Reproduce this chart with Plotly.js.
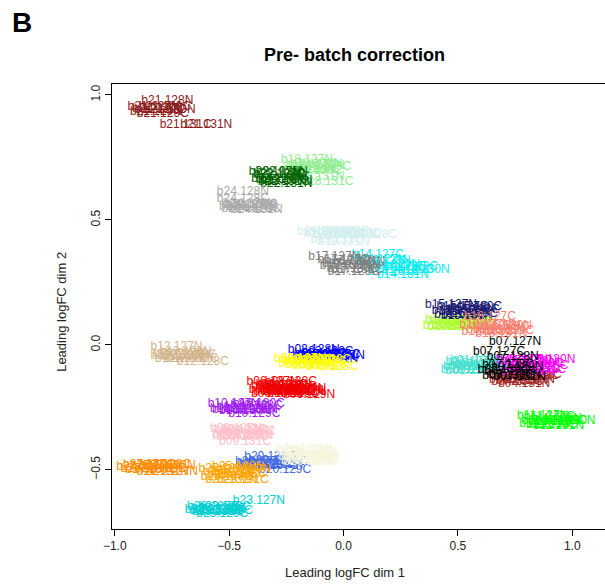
<!DOCTYPE html>
<html>
<head>
<meta charset="utf-8">
<script src="https://cdn.plot.ly/plotly-3.0.1.min.js"></script>
<style>
html,body{margin:0;padding:0;overflow:hidden;background:#fff;}
#chart{width:640px;height:587px;}
</style>
</head>
<body>
<div id="chart"></div>
<script>
// TMT channels (one label per batch x channel)
const channels = ["127N","127C","128N","128C","129N","129C","130N","130C","131N","131C"];

const batches = ["b01","b02","b03","b04","b05","b06","b07","b08","b09","b10","b11","b12","b13","b14",
                 "b15","b16","b17","b18","b19","b20","b21","b22","b23","b24","b25","b26","b27"];
const colors  = ["#40E0D0","#0000FF","#FFFF00","#A52A2A","#FF00FF","#FF0000","#000000","#EE0000","#FFC0CB","#A020F0",
                 "#00FF00","#D2B48C","#ADFF2F","#00EEEE","#191970","#FA8072","#7F7F7F","#90EE90","#D1EEEE","#4169E1",
                 "#8B1A1A","#006400","#00CED1","#A9A9A9","#FFA500","#F5F5DC","#FF8C00"];

// Leading logFC dim 1 (x) and dim 2 (y) per batch, in channel order
const b01_x = [0.56,0.58,0.60,0.55,0.57,0.54,0.61,0.59,0.56,0.62];
const b01_y = [-0.07,-0.065,-0.075,-0.09,-0.085,-0.10,-0.09,-0.10,-0.105,-0.08];
const b02_x = [-0.02,-0.08,-0.13,-0.10,-0.06,-0.04,-0.11,-0.07,-0.05,-0.09];
const b02_y = [-0.045,-0.04,-0.02,-0.035,-0.05,-0.04,-0.045,-0.03,-0.055,-0.05];
const b03_x = [-0.19,-0.16,-0.13,-0.05,-0.17,-0.10,-0.14,-0.08,-0.11,-0.15];
const b03_y = [-0.055,-0.06,-0.065,-0.09,-0.075,-0.07,-0.08,-0.06,-0.085,-0.07];
const b04_x = [0.74,0.77,0.80,0.75,0.78,0.83,0.81,0.76,0.79,0.84];
const b04_y = [-0.12,-0.125,-0.13,-0.14,-0.145,-0.125,-0.14,-0.15,-0.155,-0.12];
const b05_x = [0.78,0.80,0.82,0.85,0.79,0.83,0.90,0.87,0.81,0.86];
const b05_y = [-0.06,-0.065,-0.07,-0.075,-0.09,-0.095,-0.06,-0.085,-0.11,-0.10];
const b06_x = [-0.31,-0.29,-0.27,-0.30,-0.15,-0.28,-0.26,-0.25,-0.29,-0.27];
const b06_y = [-0.15,-0.165,-0.17,-0.18,-0.20,-0.19,-0.175,-0.185,-0.195,-0.16];
const b07_x = [0.75,0.68,0.74,0.72,0.76,0.73,0.75,0.70,0.77,0.72];
const b07_y = [0.01,-0.03,-0.05,-0.08,-0.09,-0.11,-0.12,-0.10,-0.13,-0.125];
const b08_x = [-0.25,-0.23,-0.21,-0.24,-0.19,-0.22,-0.20,-0.23,-0.19,-0.24];
const b08_y = [-0.165,-0.17,-0.18,-0.19,-0.175,-0.195,-0.185,-0.15,-0.19,-0.18];
const b09_x = [-0.47,-0.45,-0.42,-0.46,-0.43,-0.41,-0.46,-0.44,-0.42,-0.43];
const b09_y = [-0.335,-0.34,-0.345,-0.355,-0.36,-0.35,-0.365,-0.37,-0.365,-0.39];
const b10_x = [-0.48,-0.44,-0.41,-0.38,-0.46,-0.39,-0.43,-0.37,-0.40,-0.47];
const b10_y = [-0.235,-0.25,-0.255,-0.245,-0.26,-0.275,-0.265,-0.235,-0.26,-0.255];
const b11_x = [0.87,0.90,0.93,0.89,0.92,0.95,0.99,0.91,0.94,0.88];
const b11_y = [-0.285,-0.29,-0.295,-0.305,-0.31,-0.305,-0.305,-0.32,-0.325,-0.315];
const b12_x = [-0.73,-0.72,-0.69,-0.615,-0.70,-0.67,-0.73,-0.66,-0.68,-0.71];
const b12_y = [-0.01,-0.035,-0.03,-0.07,-0.045,-0.04,-0.045,-0.055,-0.05,-0.055];
const b13_x = [0.47,0.49,0.52,0.50,0.46,0.53,0.55,0.48,0.51,0.56];
const b13_y = [0.10,0.095,0.09,0.08,0.075,0.085,0.09,0.07,0.07,0.08];
const b14_x = [0.16,0.15,0.18,0.30,0.22,0.25,0.35,0.28,0.26,0.22];
const b14_y = [0.34,0.36,0.335,0.31,0.32,0.31,0.30,0.30,0.28,0.29];
const b15_x = [0.47,0.52,0.55,0.57,0.53,0.56,0.50,0.58,0.54,0.51];
const b15_y = [0.16,0.15,0.145,0.14,0.13,0.125,0.135,0.15,0.115,0.12];
const b16_x = [0.62,0.64,0.66,0.70,0.68,0.72,0.71,0.65,0.69,0.63];
const b16_y = [0.08,0.11,0.075,0.07,0.06,0.055,0.075,0.06,0.045,0.05];
const b17_x = [-0.04,0.00,0.03,0.02,0.05,0.045,0.01,0.04,0.07,0.06];
const b17_y = [0.35,0.34,0.335,0.325,0.315,0.29,0.315,0.305,0.33,0.30];
const b18_x = [-0.16,-0.14,-0.12,-0.13,-0.11,-0.08,-0.15,-0.12,-0.11,-0.07];
const b18_y = [0.74,0.72,0.725,0.705,0.715,0.71,0.70,0.695,0.67,0.65];
const b19_x = [-0.09,-0.06,-0.04,0.12,-0.02,0.00,0.03,0.05,0.00,-0.03];
const b19_y = [0.45,0.445,0.45,0.44,0.44,0.45,0.44,0.445,0.41,0.42];
const b20_x = [-0.36,-0.33,-0.30,-0.27,-0.34,-0.255,-0.29,-0.31,-0.35,-0.32];
const b20_y = [-0.47,-0.475,-0.465,-0.47,-0.48,-0.50,-0.48,-0.485,-0.475,-0.45];
const b21_x = [-0.83,-0.80,-0.77,-0.78,-0.82,-0.79,-0.76,-0.81,-0.60,-0.69];
const b21_y = [0.95,0.94,0.975,0.95,0.93,0.925,0.94,0.945,0.88,0.88];
const b22_x = [-0.30,-0.28,-0.27,-0.28,-0.29,-0.26,-0.25,-0.27,-0.25,-0.26];
const b22_y = [0.69,0.685,0.69,0.68,0.665,0.67,0.655,0.66,0.645,0.65];
const b23_x = [-0.37,-0.57,-0.55,-0.52,-0.56,-0.53,-0.54,-0.51,-0.58,-0.55];
const b23_y = [-0.625,-0.65,-0.655,-0.65,-0.665,-0.675,-0.66,-0.665,-0.66,-0.67];
const b24_x = [-0.42,-0.40,-0.44,-0.44,-0.41,-0.39,-0.43,-0.40,-0.38,-0.42];
const b24_y = [0.56,0.55,0.61,0.585,0.565,0.545,0.55,0.56,0.54,0.545];
const b25_x = [-0.43,-0.50,-0.47,-0.45,-0.52,-0.48,-0.46,-0.51,-0.49,-0.44];
const b25_y = [-0.50,-0.51,-0.505,-0.515,-0.495,-0.52,-0.49,-0.53,-0.54,-0.54];
const b26_x = [-0.18,-0.16,-0.14,-0.15,-0.13,-0.17,-0.14,-0.13,-0.16,-0.15];
const b26_y = [-0.42,-0.43,-0.425,-0.44,-0.445,-0.45,-0.455,-0.46,-0.465,-0.47];
const b27_x = [-0.75,-0.85,-0.82,-0.78,-0.88,-0.80,-0.76,-0.84,-0.79,-0.86];
const b27_y = [-0.51,-0.48,-0.485,-0.48,-0.49,-0.495,-0.485,-0.50,-0.51,-0.495];

const xs = [b01_x,b02_x,b03_x,b04_x,b05_x,b06_x,b07_x,b08_x,b09_x,b10_x,b11_x,b12_x,b13_x,b14_x,
            b15_x,b16_x,b17_x,b18_x,b19_x,b20_x,b21_x,b22_x,b23_x,b24_x,b25_x,b26_x,b27_x];
const ys = [b01_y,b02_y,b03_y,b04_y,b05_y,b06_y,b07_y,b08_y,b09_y,b10_y,b11_y,b12_y,b13_y,b14_y,
            b15_y,b16_y,b17_y,b18_y,b19_y,b20_y,b21_y,b22_y,b23_y,b24_y,b25_y,b26_y,b27_y];

const xTicks = [-1.0,-0.5,0.0,0.5,1.0];
const yTicks = [-0.5,0.0,0.5,1.0];

const FONT = "Arial, 'Liberation Sans', sans-serif";

const traces = batches.map((b, i) => ({
  type: "scatter",
  mode: "text",
  x: xs[i],
  y: ys[i],
  text: channels.map(c => b + "." + c),
  textposition: "middle center",
  textfont: {family: FONT, size: 12, color: colors[i]},
  hoverinfo: "text",
  showlegend: false,
  cliponaxis: false
}));

const axisCommon = {
  showgrid: false, zeroline: false,
  showline: true, linecolor: "#000", linewidth: 1, mirror: true,
  ticks: "outside", ticklen: 6, tickwidth: 1, tickcolor: "#000",
  tickfont: {family: FONT, size: 12, color: "#222"},
  tickformat: ".1f"
};

const layout = {
  width: 640, height: 587,
  margin: {l: 112, r: 22, t: 84, b: 58},
  paper_bgcolor: "#fff", plot_bgcolor: "#fff",
  title: {
    text: "<b>Pre- batch correction</b>",
    font: {family: FONT, size: 18, color: "#000"},
    xref: "container", yref: "container",
    x: 354.5/640, xanchor: "center",
    y: 1 - 55/587, yanchor: "middle"
  },
  xaxis: Object.assign({}, axisCommon, {range: [-1.012, 1.2], tickvals: xTicks}),
  yaxis: Object.assign({}, axisCommon, {range: [-0.737, 1.044], tickvals: yTicks, tickangle: -90}),
  annotations: [
    {text: "Leading logFC dim 1", xref: "paper", yref: "paper", x: (345-112)/506, y: (529.3-573)/445.3,
     xanchor: "center", yanchor: "middle", showarrow: false, font: {family: FONT, size: 13, color: "#222"}},
    {text: "Leading logFC dim 2", xref: "paper", yref: "paper", x: (62-112)/506, y: (529.3-312)/445.3,
     xanchor: "center", yanchor: "middle", textangle: -90, showarrow: false, font: {family: FONT, size: 13, color: "#222"}},
    {text: "<b>B</b>", xref: "paper", yref: "paper", x: (22-112)/506, y: (529.3-22)/445.3,
     xanchor: "center", yanchor: "middle", showarrow: false, font: {family: FONT, size: 28, color: "#000"}}
  ]
};

Plotly.newPlot("chart", traces, layout, {displayModeBar: false, responsive: false, staticPlot: true});
</script>
</body>
</html>
